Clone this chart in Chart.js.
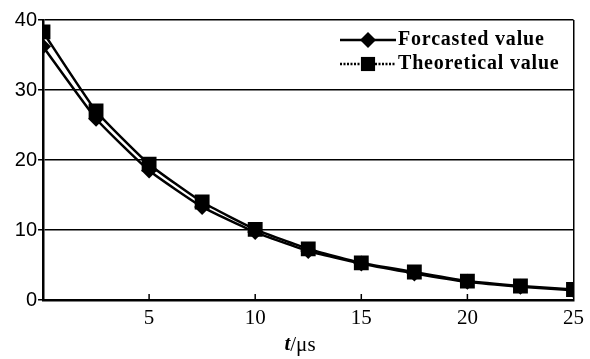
<!DOCTYPE html>
<html>
<head>
<meta charset="utf-8">
<script src="https://cdn.jsdelivr.net/npm/chart.js@4.4.0/dist/chart.umd.min.js"></script>
<style>
  html, body { margin: 0; padding: 0; background: #fff; }
  #wrap { width: 590px; height: 359px; }
</style>
</head>
<body>
<div id="wrap"><canvas id="myChart"></canvas></div>
<script>
// time points (t / us)
const tValues = [0, 2.5, 5, 7.5, 10, 12.5, 15, 17.5, 20, 22.5, 25];
const forecasted = [36.2, 25.9, 18.5, 13.3, 9.7, 7.0, 5.2, 3.8, 2.6, 1.9, 1.4];
const theoretical = [38.3, 27.0, 19.4, 14.0, 10.1, 7.3, 5.3, 4.0, 2.7, 2.0, 1.5];
const xTicks = [5, 10, 15, 20, 25];
const yTicks = [0, 10, 20, 30, 40];

const serif = "'Liberation Serif', 'Times New Roman', serif";
const sans = "'Liberation Sans', Arial, sans-serif";

function toPoints(vals) {
    return tValues.map((t, i) => ({ x: t, y: vals[i] }));
}

// legend drawn inside the plot, top right, plus axis title with italic t
const extras = {
    id: "extras",
    afterDraw(chart) {
        const ctx = chart.ctx;
        const x = chart.scales.x;
        const area = chart.chartArea;
        ctx.save();
        // small inner tick marks on the x axis
        ctx.strokeStyle = "black";
        ctx.lineWidth = 1.5;
        xTicks.slice(0, -1).forEach((v) => {
            const px = x.getPixelForValue(v);
            ctx.beginPath();
            ctx.moveTo(px, area.bottom);
            ctx.lineTo(px, area.bottom - 6);
            ctx.stroke();
        });

        // legend
        const rows = [
            { label: "Forcasted value", style: "rectRot", r: 8, y: 40, dash: [] },
            { label: "Theoretical value", style: "rect", r: 10, y: 64, dash: [2, 1.5] },
        ];
        rows.forEach((row) => {
            ctx.lineWidth = 2.5;
            ctx.setLineDash(row.dash);
            ctx.beginPath();
            ctx.moveTo(340, row.y);
            ctx.lineTo(396, row.y);
            ctx.stroke();
            ctx.setLineDash([]);
            ctx.fillStyle = "black";
            Chart.helpers.drawPoint(ctx, { pointStyle: row.style, radius: row.r, borderWidth: 0 }, 368, row.y);
            ctx.font = "bold 20px " + serif;
            ctx.letterSpacing = "0.8px";
            ctx.textBaseline = "middle";
            ctx.textAlign = "left";
            ctx.fillText(row.label, 398, row.y);
            ctx.letterSpacing = "0px";
        });

        // x axis title: t/us with italic t
        ctx.textBaseline = "middle";
        ctx.textAlign = "left";
        ctx.font = "italic bold 21px " + serif;
        const tw = ctx.measureText("t").width;
        ctx.font = "21px " + serif;
        const rw = ctx.measureText("/\u03bcs").width;
        const startX = 300 - (tw + rw) / 2;
        ctx.font = "italic bold 21px " + serif;
        ctx.fillText("t", startX, 345);
        ctx.font = "21px " + serif;
        ctx.fillText("/\u03bcs", startX + tw, 345);
        ctx.restore();
    },
};

const data = {
    datasets: [
        {
            label: "Forcasted value",
            data: toPoints(forecasted),
            borderColor: "black",
            backgroundColor: "black",
            borderWidth: 2.5,
            pointStyle: "rectRot",
            pointRadius: 8,
            pointBorderWidth: 0,
            tension: 0.15,
        },
        {
            label: "Theoretical value",
            data: toPoints(theoretical),
            borderColor: "black",
            backgroundColor: "black",
            borderWidth: 2.5,
            pointStyle: "rect",
            pointRadius: 10.5,
            pointBorderWidth: 0,
            tension: 0.15,
        },
    ],
};

const options = {
    responsive: true,
    maintainAspectRatio: false,
    animation: false,
    layout: { padding: { top: 20, right: 15, left: 0, bottom: 0 } },
    plugins: {
        legend: { display: false },
        tooltip: { enabled: false },
    },
    scales: {
        x: {
            type: "linear",
            min: 0,
            max: 25,
            afterBuildTicks: (scale) => {
                scale.ticks = [0, ...xTicks].map((v) => ({ value: v }));
            },
            afterFit: (scale) => {
                scale.height = 59;
            },
            border: { color: "black", width: 2.5 },
            grid: {
                drawTicks: false,
                color: (c) => (c.tick && c.tick.value === 25 ? "black" : "rgba(0,0,0,0)"),
                lineWidth: 1.5,
            },
            ticks: {
                color: "black",
                font: { family: serif, size: 21 },
                padding: 6,
                callback: (v) => (v === 0 ? "" : v),
            },
        },
        y: {
            min: 0,
            max: 40,
            afterBuildTicks: (scale) => {
                scale.ticks = yTicks.map((v) => ({ value: v }));
            },
            afterFit: (scale) => {
                scale.width = 43;
            },
            border: { color: "black", width: 2.5 },
            grid: {
                color: "black",
                lineWidth: 1.5,
                tickLength: 5,
            },
            ticks: {
                color: "black",
                font: { family: sans, size: 20 },
                padding: 1,
            },
        },
    },
};

new Chart(document.getElementById("myChart"), {
    type: "line",
    data: data,
    options: options,
    plugins: [extras],
});
</script>
</body>
</html>
